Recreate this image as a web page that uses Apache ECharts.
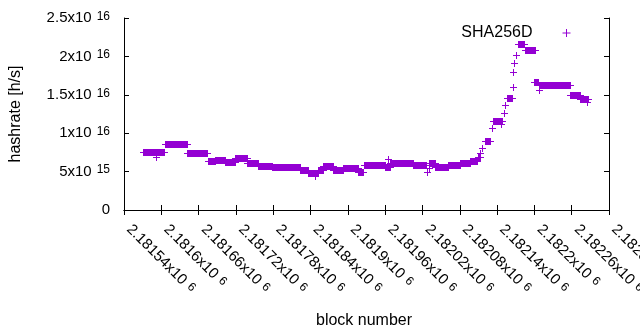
<!DOCTYPE html>
<html>
<head>
<meta charset="utf-8">
<script src="https://cdn.jsdelivr.net/npm/echarts@6/dist/echarts.min.js"></script>
<style>
  html, body { margin: 0; padding: 0; background: #fff; }
  #chart { width: 640px; height: 330px; }
</style>
</head>
<body>
<div id="chart"></div>
<script>
// blocks with the same difficulty share one hashrate, so each run is start..end at one value
const blockStart = [2181570, 2181591, 2181606, 2181641, 2181675, 2181686, 2181702, 2181719, 2181738, 2181755,
  2181778, 2181823, 2181836, 2181847, 2181852, 2181860, 2181876, 2181892, 2181916, 2181926,
  2181965, 2181960, 2181968, 2182005, 2182027, 2182031, 2182031, 2182040, 2182061, 2182080,
  2182096, 2182109, 2182112, 2182116, 2182120, 2182132, 2182134, 2182147, 2182151, 2182153,
  2182156, 2182166, 2182166, 2182168, 2182171, 2182173, 2182185, 2182199, 2182207, 2182208,
  2182257, 2182273, 2182285]
const blockEnd = [2181604, 2181591, 2181641, 2181673, 2181686, 2181702, 2181719, 2181738, 2181755, 2181778,
  2181823, 2181836, 2181852, 2181847, 2181860, 2181876, 2181892, 2181916, 2181924, 2181960,
  2181965, 2181968, 2182005, 2182026, 2182027, 2182031, 2182040, 2182061, 2182080, 2182096,
  2182108, 2182113, 2182112, 2182116, 2182129, 2182132, 2182148, 2182147, 2182151, 2182153,
  2182164, 2182166, 2182166, 2182168, 2182171, 2182184, 2182201, 2182206, 2182207, 2182257,
  2182273, 2182286, 2182285]
const hashrate = [7.50e15, 6.90e15, 8.55e15, 7.38e15, 6.38e15, 6.55e15, 6.29e15, 6.75e15, 6.08e15, 5.73e15,
  5.56e15, 5.25e15, 4.80e15, 4.45e15, 5.21e15, 5.75e15, 5.21e15, 5.43e15, 5.00e15, 5.86e15,
  6.60e15, 5.64e15, 6.16e15, 5.82e15, 4.99e15, 5.43e15, 6.12e15, 5.60e15, 5.82e15, 6.08e15,
  6.42e15, 6.94e15, 7.40e15, 8.07e15, 9.02e15, 1.064e16, 1.16e16, 1.12e16, 1.26e16, 1.367e16,
  1.454e16, 1.598e16, 1.80e16, 1.91e16, 2.018e16, 2.158e16, 2.079e16, 1.67e16, 1.56e16, 1.624e16,
  1.497e16, 1.449e16, 1.41e16]

const xMin = 2181540, xMax = 2182320, xStep = 60
const yMax = 2.5e16, yStep = 5e15

const color = '#9400d3'
const font = 'Liberation Sans'

// gnuplot style "a x10^b" labels
function sci(v) {
  if (v === 0) return '{m|0}'
  const e = Math.floor(Math.log10(v) + 1e-9)
  const m = +(v / Math.pow(10, e)).toFixed(5)
  return '{m|' + m + 'x10}{e|' + e + '}'
}
const rich = {
  m: { fontFamily: font, fontSize: 15, color: '#000' },
  e: { fontFamily: font, fontSize: 12, color: '#000', verticalAlign: 'top', padding: [0, 0, 0, 5] }
}
const xRich = {
  m: { fontFamily: font, fontSize: 15, color: '#000', padding: [0, 0, 0, 7] },
  e: rich.e
}

const data = blockStart.map((s, i) => [s, blockEnd[i], hashrate[i]])

// a run of "+" points: filled by the vertical arms, horizontal arms poke out at both ends
function renderItem(params, api) {
  const a = api.coord([api.value(0), api.value(2)])
  const b = api.coord([api.value(1), api.value(2)])
  const x1 = Math.round(a[0]), x2 = Math.round(b[0]), yc = Math.round(a[1])
  return {
    type: 'group',
    children: [
      { type: 'rect', shape: { x: x1, y: yc - 3, width: x2 - x1 + 1, height: 7 }, style: { fill: color } },
      { type: 'line', shape: { x1: x1 - 3, y1: yc + 0.5, x2: x2 + 4, y2: yc + 0.5 }, style: { stroke: color, lineWidth: 1 } }
    ]
  }
}

const axisCommon = {
  axisLine: { show: true, lineStyle: { color: '#000', width: 1 } },
  axisTick: { show: true, inside: true, length: 5, lineStyle: { color: '#000' } },
  splitLine: { show: false }
}

const chart = echarts.init(document.getElementById('chart'), null, { renderer: 'canvas' })
chart.setOption({
  animation: false,
  backgroundColor: '#fff',
  grid: { left: 124, right: 31, top: 18, bottom: 120, outerBoundsMode: 'none', containLabel: false },
  legend: {
    right: 64, top: 20, align: 'right',
    itemWidth: 8, itemHeight: 8,
    textStyle: { fontFamily: font, fontSize: 16, color: '#000', padding: [0, 25, 0, 0] },
    data: [{ name: 'SHA256D', icon: 'path://M0,4L8,4M4,0L4,8',
      itemStyle: { color: 'transparent', borderColor: color, borderWidth: 1 } }]
  },
  xAxis: [
    Object.assign({
      type: 'value', min: xMin, max: xMax, interval: xStep,
      name: 'block number', nameLocation: 'middle', nameGap: 103,
      nameTextStyle: { fontFamily: font, fontSize: 16, color: '#000', padding: [0, 5, 0, 0] },
      axisLabel: {
        rotate: -45, margin: 12, showMaxLabel: true,
        formatter: v => '{m|' + +(v / 1e6).toFixed(6) + 'x10}{e|6}',
        rich: xRich
      }
    }, axisCommon),
    Object.assign({ type: 'value', position: 'top', min: xMin, max: xMax, interval: xStep, axisLabel: { show: false } }, axisCommon)
  ],
  yAxis: [
    Object.assign({
      type: 'value', min: 0, max: yMax, interval: yStep,
      name: 'hashrate [h/s]', nameLocation: 'middle', nameGap: 100,
      nameTextStyle: { fontFamily: font, fontSize: 16, color: '#000' },
      axisLabel: { margin: 14, formatter: sci, rich: rich }
    }, axisCommon),
    Object.assign({ type: 'value', position: 'right', min: 0, max: yMax, interval: yStep, axisLabel: { show: false } }, axisCommon)
  ],
  series: [{
    name: 'SHA256D',
    type: 'custom',
    renderItem: renderItem,
    itemStyle: { color: color },
    encode: { x: [0, 1], y: 2 },
    data: data
  }]
})
</script>
</body>
</html>
